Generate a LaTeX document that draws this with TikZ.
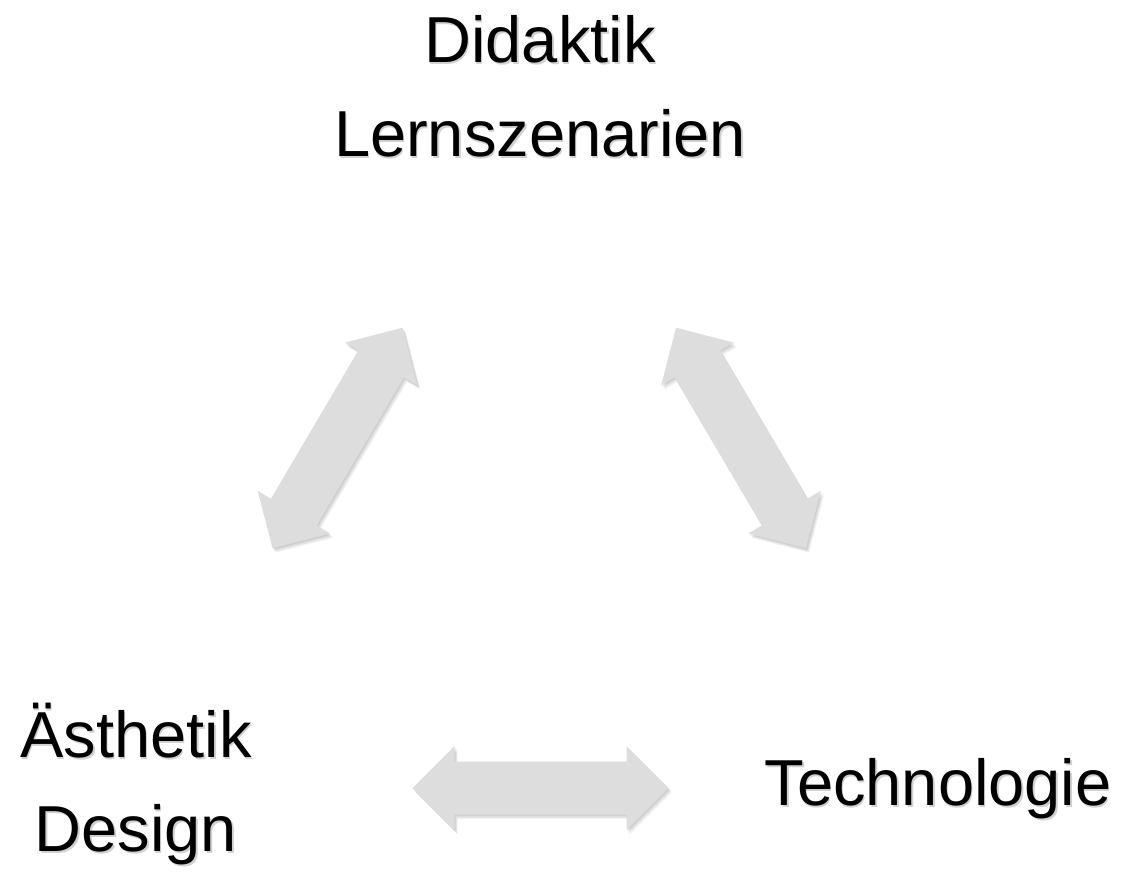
\documentclass[tikz,border=0pt]{standalone}
\usepackage{fontspec}
\setmainfont{Liberation Sans}
\begin{document}
\begin{tikzpicture}[x=1pt,y=1pt,
  lbl/.style={inner sep=0pt, outer sep=0pt, align=center, text=black,
    font=\fontsize{65}{94}\selectfont},
  lblshadow/.style={lbl, text=black, opacity=0.18},
  arrowfill/.style={fill=arrowgray, draw=none},
  arrowshade/.style={fill=black, draw=none, opacity=0.05},
  pics/dblarrow/.style={code={
    \path[#1] (-128,0) -- (-86,42) -- (-86,26.5) -- (86,26.5) -- (86,42) -- (128,0)
      -- (86,-42) -- (86,-26.5) -- (-86,-26.5) -- (-86,-42) -- cycle;
  }}]
\definecolor{arrowgray}{RGB}{221,221,221}
\useasboundingbox (0,0) rectangle (1126,-873);
\fill[white] (0,0) rectangle (1126,-873);

% soft text shadows
\node[lblshadow, anchor=north] at (541.5,-17.5) {Didaktik\\Lernszenarien};
\node[lblshadow, anchor=north] at (137.5,-705.5) {Ästhetik\\Design};
\node[lblshadow, anchor=north] at (939.5,-760.5) {Technologie};
% labels
\node[lbl, anchor=north] (did) at (540,-15) {Didaktik\\Lernszenarien};
\node[lbl, anchor=north] (aes) at (136,-703) {Ästhetik\\Design};
\node[lbl, anchor=north] (tec) at (938,-758) {Technologie};

% arrow shadows (soft)
\foreach \s in {1,2,3,4}{
  \pic[shift={(337.5+\s*0.8,-438-\s*1.1)}, rotate=59.5] {dblarrow=arrowshade};
  \pic[shift={(741+\s*0.8,-438-\s*1.1)}, rotate=-59.5] {dblarrow=arrowshade};
  \pic[shift={(540.5+\s*0.8,-788-\s*1.1)}] {dblarrow=arrowshade};
}
% arrows
\pic (a1) at (337.5,-438) [rotate=59.5] {dblarrow=arrowfill};
\pic (a2) at (741,-438) [rotate=-59.5] {dblarrow=arrowfill};
\pic (a3) at (540.5,-788) {dblarrow=arrowfill};
\end{tikzpicture}
\end{document}
